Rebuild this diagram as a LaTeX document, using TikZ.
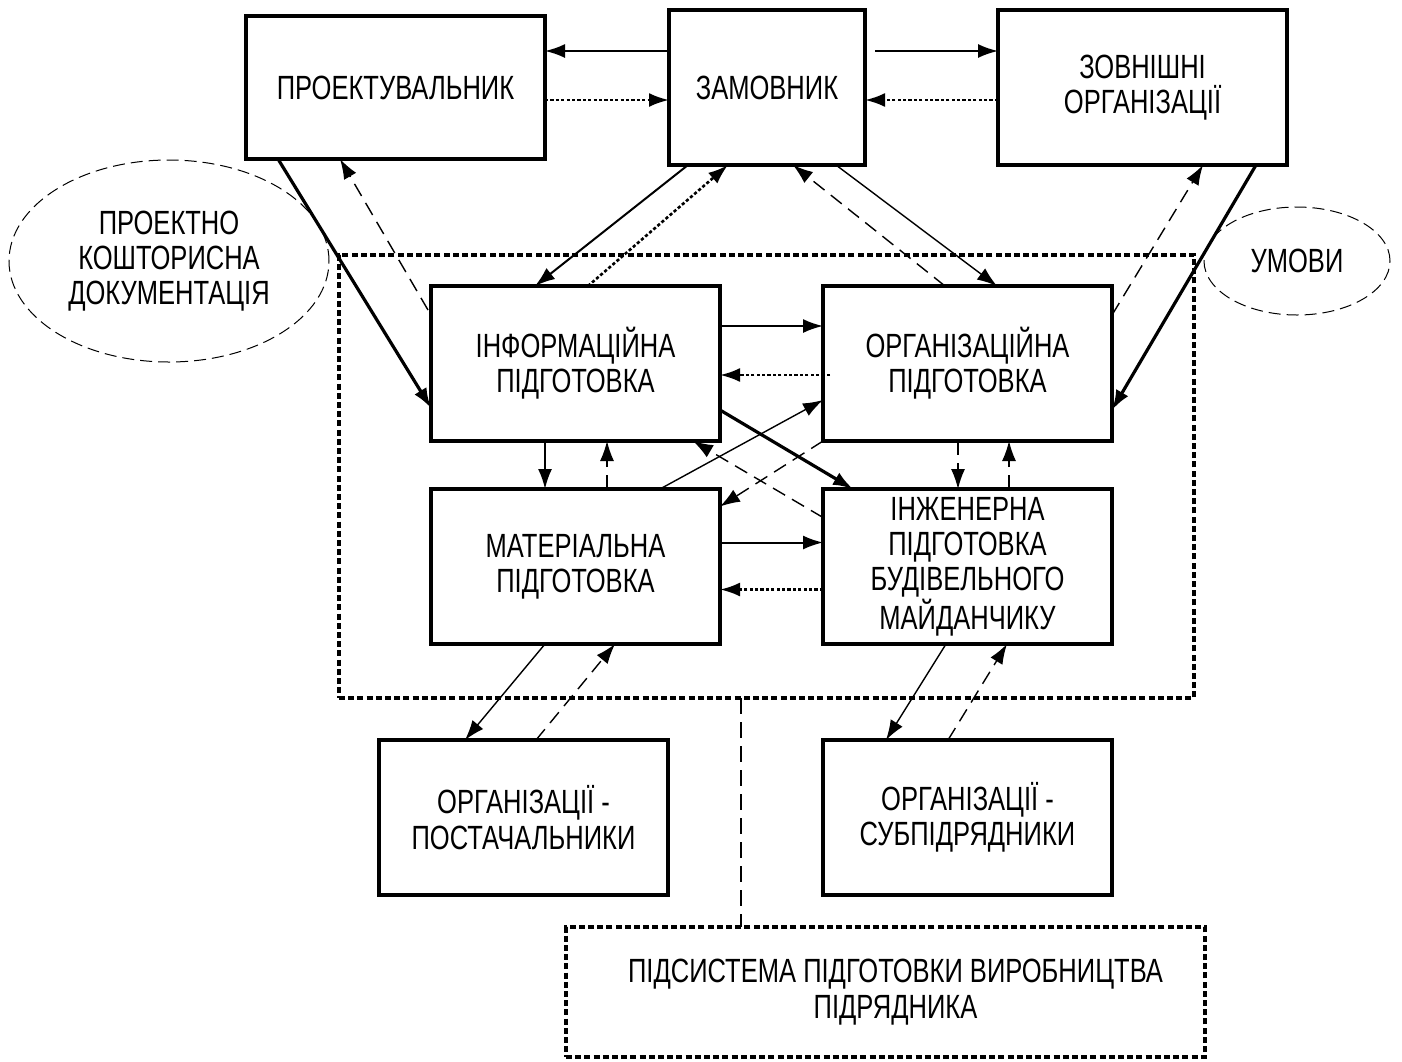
\documentclass[tikz,border=0pt]{standalone}
\usepackage{fontspec}
\setmainfont{Liberation Sans}[FakeStretch=0.76]
\usetikzlibrary{shapes.geometric, arrows.meta, positioning, calc}

\begin{document}
\begin{tikzpicture}[
        x=0.5pt, y=-0.5pt,
        font=\fontsize{16.8}{17.6}\selectfont,
        block/.style={rectangle, draw=black, line width=2pt, minimum width=144.5pt, minimum height=77.5pt, align=center, outer sep=0pt, inner sep=2pt},
        zone/.style={rectangle, draw=black, line width=2.2pt, dash pattern=on 3pt off 1.6pt, align=center, outer sep=0pt},
        note/.style={ellipse, draw=black, line width=0.5pt, dash pattern=on 6pt off 3pt, align=center, inner sep=0pt},
        flow/.style={-{Latex[length=10pt,width=7pt]}, line width=1pt},
        mainflow/.style={flow, line width=1.6pt},
        thinflow/.style={flow, line width=0.7pt},
        dotflow/.style={flow, line width=1.3pt, dash pattern=on 1.6pt off 1.1pt},
        dashflow/.style={flow, line width=0.7pt, dash pattern=on 7pt off 4pt},
        splitline/.style={line width=0.7pt, dash pattern=on 8pt off 4pt}
    ]
    \useasboundingbox (0,0) rectangle (1402,1061);

    % Subsystem borders
    \node[zone, minimum width=427.5pt, minimum height=221.5pt] (system) at (766.5,476.5) {};
    \node[zone, minimum width=319.5pt, minimum height=65pt] (podsys) at (885.5,992) {\hspace*{10pt}ПІДСИСТЕМА ПІДГОТОВКИ ВИРОБНИЦТВА\\\hspace*{10pt}ПІДРЯДНИКА};

    % Participants
    \node[block, minimum width=98pt] (zam) at (767,87.5) {ЗАМОВНИК};
    \node[block, minimum width=149.5pt, minimum height=71.5pt, left=62pt of zam] (proj) {ПРОЕКТУВАЛЬНИК};
    \node[block, right=66.5pt of zam] (zovn) {ЗОВНІШНІ\\ОРГАНІЗАЦІЇ};

    % Preparation blocks
    \node[block] (info) at (575.5,363.5) {ІНФОРМАЦІЙНА\\ПІДГОТОВКА};
    \node[block, right=51.5pt of info] (org) {ОРГАНІЗАЦІЙНА\\ПІДГОТОВКА};
    \node[block, below=24pt of info] (mat) {МАТЕРІАЛЬНА\\ПІДГОТОВКА};
    \node[block, below=24pt of org] (inzh) {ІНЖЕНЕРНА\\ПІДГОТОВКА\\БУДІВЕЛЬНОГО\\МАЙДАНЧИКУ};

    % Outside organisations
    \node[block, below=48pt of mat, xshift=-26pt] (post) {ОРГАНІЗАЦІЇ -\\ПОСТАЧАЛЬНИКИ};
    \node[block, below=48pt of inzh] (sub) {ОРГАНІЗАЦІЇ -\\СУБПІДРЯДНИКИ};

    % Notes
    \node[note, minimum width=160pt, minimum height=101pt] (docs) at (169,261) {ПРОЕКТНО\\КОШТОРИСНА\\ДОКУМЕНТАЦІЯ};
    \node[note, minimum width=93pt, minimum height=54pt] (umovy) at (1297,261) {УМОВИ};

    % Top row
    \draw[flow] ($(zam.west)+(0,-36.5)$) -- ($(proj.east)+(0,-36.5)$);
    \draw[dotflow] ($(proj.east)+(0,12.5)$) -- ($(zam.west)+(0,12.5)$);
    \draw[flow] ($(zam.east)+(10,-36.5)$) -- ($(zovn.west)+(0,-36.5)$);
    \draw[dotflow] ($(zovn.west)+(0,12.5)$) -- ($(zam.east)+(0,12.5)$);

    % Top row to preparation
    \draw[mainflow] ($(proj.south)+(-117.5,0)$) -- ($(info.west)+(0,44.5)$);
    \draw[dashflow] ($(info.west)+(-3,-53.5)$) -- ($(proj.south)+(-55.5,0)$);
    \draw[mainflow] ($(zovn.south)+(113.5,0)$) -- ($(org.east)+(0,46.5)$);
    \draw[dashflow] ($(org.east)+(0,-48.5)$) -- ($(zovn.south)+(60.5,0)$);
    \draw[flow] ($(zam.south)+(-79,0)$) -- ($(info.north)+(-40.5,0)$);
    \draw[dotflow] ($(info.north)+(12.5,0)$) -- ($(zam.south)+(-39,0)$);
    \draw[dashflow] ($(org.north)+(-22.5,0)$) -- ($(zam.south)+(26,0)$);
    \draw[thinflow] ($(zam.south)+(69,0)$) -- ($(org.north)+(29.5,0)$);

    % Inside the subsystem
    \draw[flow] ($(info.east)+(0,-37.5)$) -- ($(org.west)+(0,-37.5)$);
    \draw[dotflow] ($(org.west)+(7,11.5)$) -- ($(info.east)+(0,11.5)$);
    \draw[flow] ($(info.south)+(-30.5,0)$) -- ($(mat.north)+(-30.5,0)$);
    \draw[dashflow] ($(mat.north)+(31.5,0)$) -- ($(info.south)+(31.5,0)$);
    \draw[dashflow] ($(org.south)+(-9.5,0)$) -- ($(inzh.north)+(-9.5,0)$);
    \draw[dashflow] ($(inzh.north)+(41.5,0)$) -- ($(org.south)+(41.5,0)$);
    \draw[mainflow] ($(info.east)+(0,46.5)$) -- ($(inzh.north)+(-114.5,0)$);
    \draw[thinflow] ($(mat.north)+(84.5,0)$) -- ($(org.west)+(0,36.5)$);
    \draw[dashflow] (org.south west) -- ($(mat.east)+(0,-60)$);
    \draw[dashflow] ($(inzh.west)+(0,-49)$) -- ($(info.south)+(117.5,0)$);
    \draw[flow] ($(mat.east)+(0,-24)$) -- ($(inzh.west)+(0,-24)$);
    \draw[dotflow] ($(inzh.west)+(0,23)$) -- ($(mat.east)+(0,23)$);

    % To suppliers and subcontractors
    \draw[thinflow] ($(mat.south)+(-30.5,0)$) -- ($(post.north)+(-58.5,0)$);
    \draw[dashflow] ($(post.north)+(12.5,0)$) -- ($(mat.south)+(39.5,0)$);
    \draw[thinflow] ($(inzh.south)+(-21.5,0)$) -- ($(sub.north)+(-81.5,0)$);
    \draw[dashflow] ($(sub.north)+(-19.5,0)$) -- ($(inzh.south)+(39.5,0)$);

    % Split
    \draw[splitline] ($(system.south)+(-25.5,0)$) -- ($(podsys.north)+(-144.5,0)$);

\end{tikzpicture}
\end{document}
